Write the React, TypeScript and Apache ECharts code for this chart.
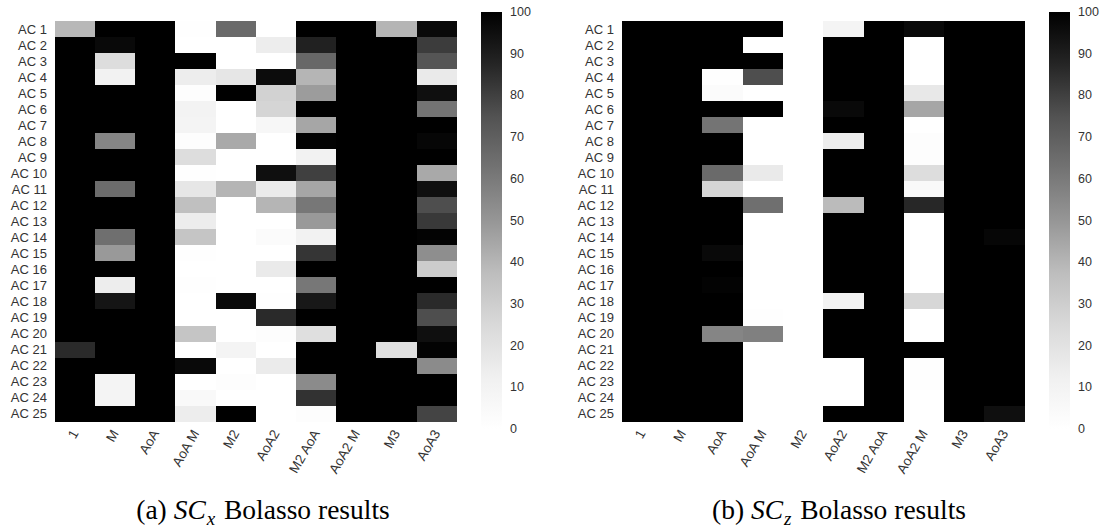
import React, { useEffect, useRef } from "react";
import * as echarts from "echarts";

const columns: string[] = ["1", "M", "AoA", "AoA M", "M2", "AoA2", "M2 AoA", "AoA2 M", "M3", "AoA3"];

const rows: string[] = [
  "AC 1", "AC 2", "AC 3", "AC 4", "AC 5", "AC 6", "AC 7", "AC 8", "AC 9", "AC 10",
  "AC 11", "AC 12", "AC 13", "AC 14", "AC 15", "AC 16", "AC 17", "AC 18", "AC 19", "AC 20",
  "AC 21", "AC 22", "AC 23", "AC 24", "AC 25",
];

// SC_x Bolasso selection frequency (%), rows AC 1..AC 25, columns as above
const scxValues: number[][] = [
  [39, 100, 100, 1, 66, 0, 100, 100, 40, 97],
  [100, 97, 100, 0, 0, 14, 89, 100, 100, 81],
  [100, 23, 100, 100, 0, 0, 67, 100, 100, 74],
  [100, 11, 100, 14, 18, 96, 40, 100, 100, 16],
  [100, 100, 100, 2, 100, 28, 48, 100, 100, 95],
  [100, 100, 100, 10, 0, 27, 100, 100, 100, 62],
  [100, 100, 100, 9, 0, 7, 45, 100, 100, 100],
  [100, 56, 100, 2, 44, 0, 99, 100, 100, 98],
  [100, 100, 100, 23, 0, 0, 11, 100, 100, 100],
  [100, 100, 100, 1, 0, 95, 80, 100, 100, 44],
  [100, 65, 100, 18, 40, 15, 45, 100, 100, 95],
  [100, 100, 100, 36, 0, 40, 61, 100, 100, 76],
  [100, 100, 100, 14, 0, 0, 49, 100, 100, 82],
  [100, 64, 100, 34, 0, 3, 11, 100, 100, 99],
  [100, 49, 100, 1, 0, 0, 83, 100, 100, 53],
  [100, 100, 100, 0, 0, 16, 100, 100, 100, 31],
  [100, 14, 100, 1, 0, 0, 61, 100, 100, 100],
  [100, 93, 100, 0, 97, 1, 92, 100, 100, 86],
  [100, 100, 100, 0, 0, 86, 100, 100, 100, 76],
  [100, 100, 100, 34, 0, 2, 22, 100, 100, 95],
  [86, 100, 100, 0, 9, 0, 100, 100, 22, 99],
  [100, 100, 100, 97, 0, 15, 100, 100, 100, 54],
  [100, 9, 100, 0, 2, 0, 54, 100, 100, 100],
  [100, 9, 100, 5, 0, 0, 84, 100, 100, 100],
  [100, 100, 100, 14, 100, 0, 2, 100, 100, 79],
];

// SC_z Bolasso selection frequency (%)
const sczValues: number[][] = [
  [100, 100, 100, 100, 0, 9, 100, 97, 100, 100],
  [100, 100, 100, 0, 0, 100, 100, 0, 100, 100],
  [100, 100, 100, 100, 0, 100, 100, 0, 100, 100],
  [100, 100, 1, 76, 0, 100, 100, 0, 100, 100],
  [100, 100, 3, 0, 0, 100, 100, 17, 100, 100],
  [100, 100, 100, 100, 0, 97, 100, 45, 100, 100],
  [100, 100, 62, 0, 0, 100, 100, 0, 100, 100],
  [100, 100, 100, 0, 0, 14, 100, 2, 100, 100],
  [100, 100, 100, 0, 0, 100, 100, 2, 100, 100],
  [100, 100, 66, 16, 0, 100, 100, 23, 100, 100],
  [100, 100, 27, 0, 0, 100, 100, 5, 100, 100],
  [100, 100, 100, 64, 0, 38, 100, 87, 100, 100],
  [100, 100, 100, 0, 0, 100, 100, 0, 100, 100],
  [100, 100, 100, 0, 0, 100, 100, 0, 100, 98],
  [100, 100, 97, 0, 0, 100, 100, 0, 100, 100],
  [100, 100, 100, 0, 0, 100, 100, 0, 100, 100],
  [100, 100, 99, 0, 0, 100, 100, 0, 100, 100],
  [100, 100, 100, 0, 0, 11, 100, 26, 100, 100],
  [100, 100, 100, 1, 0, 100, 100, 0, 100, 100],
  [100, 100, 56, 58, 0, 100, 100, 0, 100, 100],
  [100, 100, 100, 0, 0, 100, 100, 100, 100, 100],
  [100, 100, 100, 0, 0, 0, 100, 1, 100, 100],
  [100, 100, 100, 0, 0, 0, 100, 1, 100, 100],
  [100, 100, 100, 0, 0, 0, 100, 0, 100, 100],
  [100, 100, 100, 0, 0, 100, 100, 0, 100, 95],
];

const colorbarTicks = { min: 0, max: 100, interval: 10 };

const greys = ["#ffffff", "#f0f0f0", "#d9d9d9", "#bdbdbd", "#969696", "#737373", "#525252", "#252525", "#000000"];

function toCells(m: number[][]) {
  const out: number[][] = [];
  m.forEach((row, r) => row.forEach((v, c) => out.push([c, r, v])));
  return out;
}

export default function App() {
  const ref = useRef<HTMLDivElement>(null);
  useEffect(() => {
    if (!ref.current) return;
    const chart = echarts.init(ref.current, null, { renderer: "svg" });
    const textColor = "#333333";
    const sans = "Liberation Sans, Arial, sans-serif";
    const heatGrids = [
      { left: 55, top: 21, width: 402, height: 401 },
      { left: 622, top: 21, width: 403, height: 401 },
    ];
    const barGrids = [
      { left: 481, top: 12, width: 21, height: 417 },
      { left: 1049, top: 12, width: 21, height: 417 },
    ];
    const grids = [...heatGrids, ...barGrids].map((g) => ({ ...g, outerBoundsMode: "none", containLabel: false }));

    const heatX = [0, 1].map((i) => ({
      type: "category",
      gridIndex: i,
      data: columns,
      axisLine: { show: false },
      axisTick: { show: false },
      splitArea: { show: false },
      axisLabel: { rotate: 60, interval: 0, margin: 9, fontSize: 13.5, color: textColor, fontFamily: sans },
    }));
    const heatY = [0, 1].map((i) => ({
      type: "category",
      gridIndex: i,
      data: rows,
      inverse: true,
      axisLine: { show: false },
      axisTick: { show: false },
      splitArea: { show: false },
      axisLabel: { interval: 0, margin: 8, fontSize: 13, color: textColor, fontFamily: sans },
    }));
    const barX = [2, 3].map((i) => ({ type: "value", gridIndex: i, show: false, min: 0, max: 1 }));
    const barY = [2, 3].map((i) => ({
      type: "value",
      gridIndex: i,
      position: "right",
      min: colorbarTicks.min,
      max: colorbarTicks.max,
      interval: colorbarTicks.interval,
      axisLine: { show: false },
      axisTick: { show: false },
      splitLine: { show: false },
      axisLabel: { margin: 8, fontSize: 12.5, color: textColor, fontFamily: sans },
    }));

    const gradStops = greys
      .slice()
      .reverse()
      .map((c, i) => ({ offset: i / (greys.length - 1), color: c }));

    const serif = "Liberation Serif, serif";
    const caption = (label: string, sub: string, cx: number) => ({
      type: "text",
      x: cx,
      y: 509,
      style: {
        text: `{r|(${label}) }{i|SC}{s|${sub}}{r| Bolasso results}`,
        align: "center",
        verticalAlign: "middle",
        fill: "#000",
        rich: {
          r: { fontFamily: serif, fontSize: 27.5, fill: "#000", lineHeight: 30 },
          i: { fontFamily: serif, fontSize: 27.5, fontStyle: "italic", fill: "#000", lineHeight: 30 },
          s: { fontFamily: serif, fontSize: 19, fontStyle: "italic", fill: "#000", lineHeight: 19, padding: [19, 2, 0, 1] },
        },
      },
    });

    chart.setOption({
      animation: false,
      backgroundColor: "#ffffff",
      grid: grids,
      xAxis: [...heatX, ...barX],
      yAxis: [...heatY, ...barY],
      visualMap: [0, 1].map((i) => ({
        type: "continuous",
        show: false,
        min: 0,
        max: 100,
        dimension: 2,
        seriesIndex: i,
        inRange: { color: greys },
      })),
      series: [
        { type: "heatmap", xAxisIndex: 0, yAxisIndex: 0, data: toCells(scxValues), emphasis: { disabled: true }, itemStyle: { borderWidth: 0 } },
        { type: "heatmap", xAxisIndex: 1, yAxisIndex: 1, data: toCells(sczValues), emphasis: { disabled: true }, itemStyle: { borderWidth: 0 } },
      ],
      graphic: [
        ...barGrids.map((g) => ({
          type: "rect",
          shape: { x: g.left, y: g.top, width: g.width, height: g.height },
          style: { fill: new echarts.graphic.LinearGradient(0, 0, 0, 1, gradStops) },
          silent: true,
        })),
        caption("a", "x", 263),
        caption("b", "z", 839),
      ],
    });
    return () => chart.dispose();
  }, []);
  return (
    <>
      <style>{`.hm-root svg path { shape-rendering: crispEdges; }`}</style>
      <div className="hm-root" ref={ref} style={{ position: "absolute", left: 0, top: 0, width: 1100, height: 529 }} />
    </>
  );
}
